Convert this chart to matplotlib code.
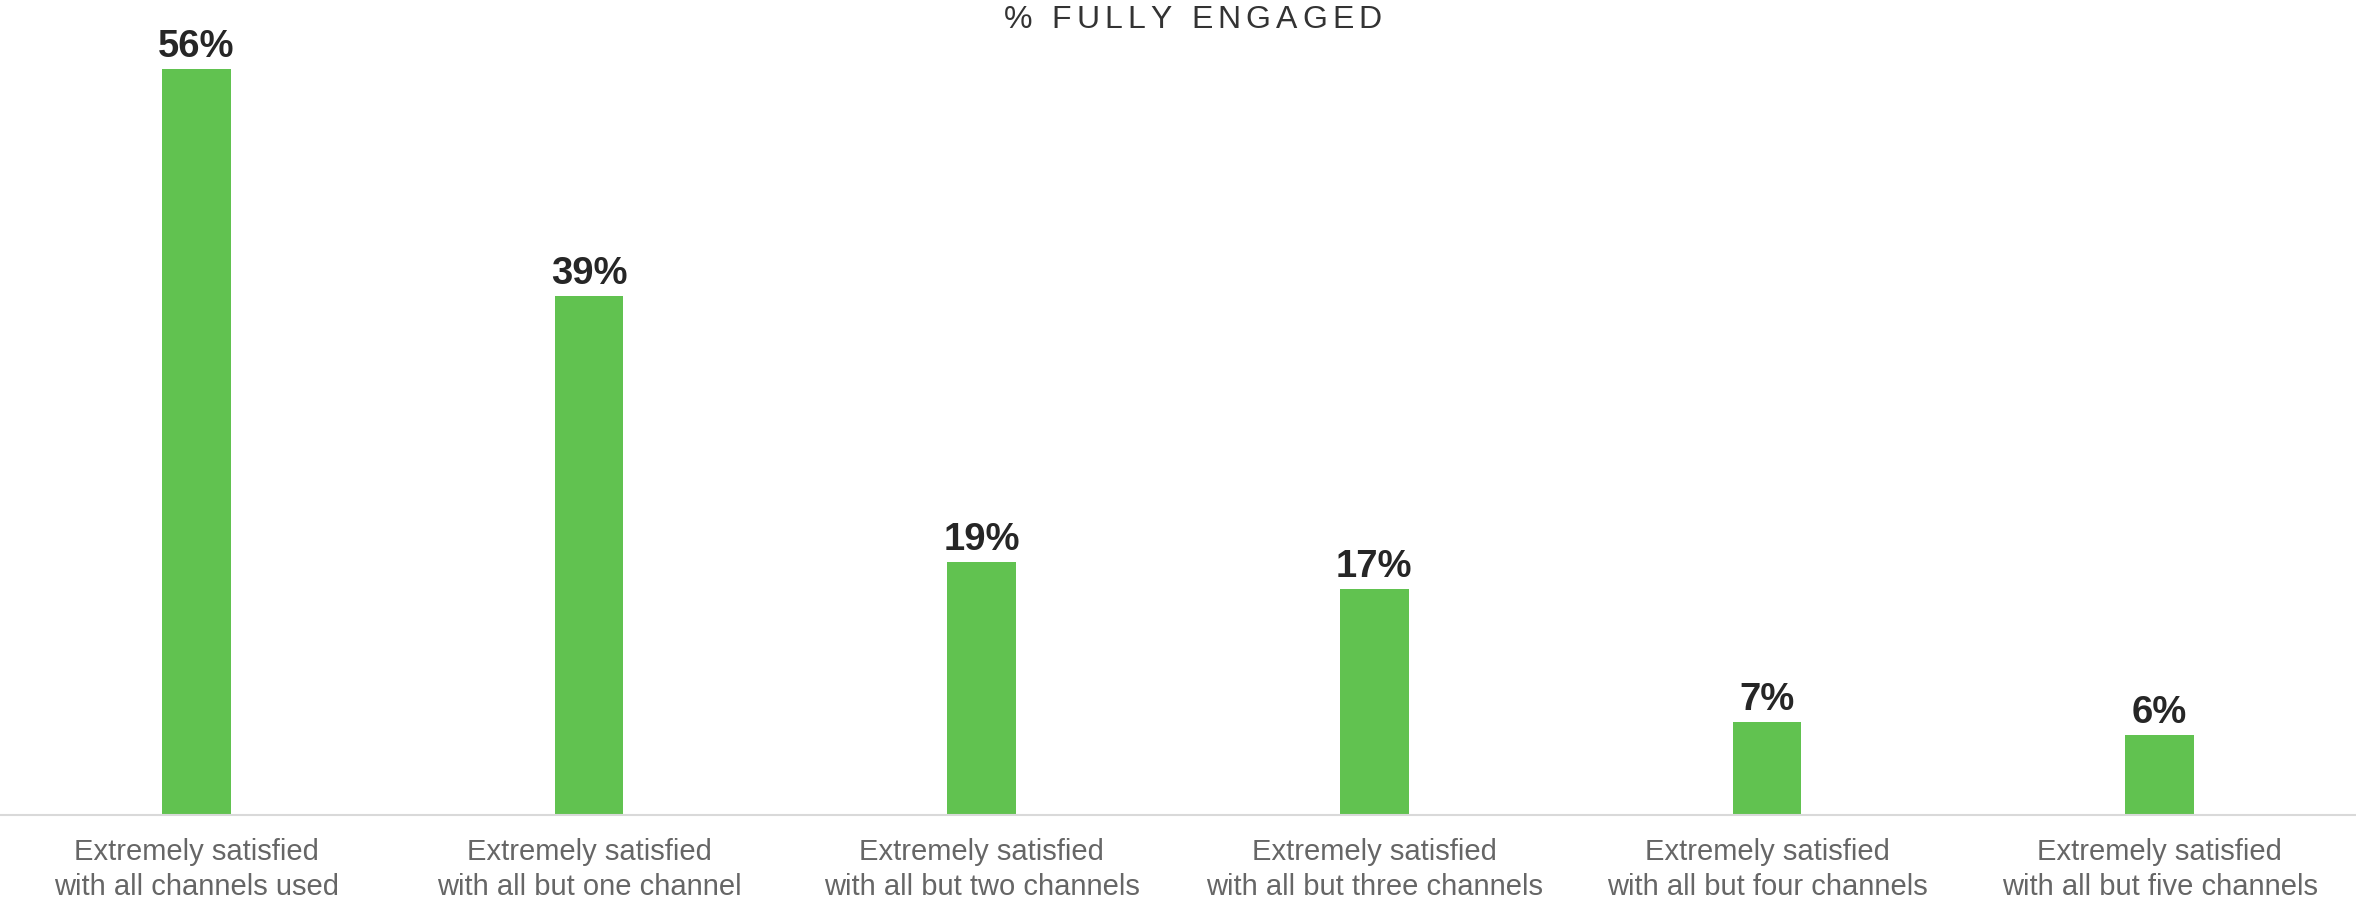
import matplotlib
matplotlib.use("Agg")
import matplotlib.pyplot as plt

categories = [
    "Extremely satisfied\nwith all channels used",
    "Extremely satisfied\nwith all but one channel",
    "Extremely satisfied\nwith all but two channels",
    "Extremely satisfied\nwith all but three channels",
    "Extremely satisfied\nwith all but four channels",
    "Extremely satisfied\nwith all but five channels",
]
values = [56, 39, 19, 17, 7, 6]
value_labels = ["56%", "39%", "19%", "17%", "7%", "6%"]
title = "% FULLY ENGAGED"

plt.rcParams['font.family'] = ['Liberation Sans', 'DejaVu Sans']

W, H, DPI = 2356, 903, 100
fig = plt.figure(figsize=(W / DPI, H / DPI), dpi=DPI)
base_px = 816
top_px = 17
ax = fig.add_axes([0, (H - base_px) / H, 1, (base_px - top_px) / H])

x = list(range(len(categories)))
ax.bar(x, values, width=0.175, color="#61C250", zorder=2)
ax.set_xlim(-0.5, len(categories) - 0.5)
ax.set_ylim(0, 60)

for xi, v, lab in zip(x, values, value_labels):
    ax.annotate(lab, (xi, v), xytext=(0, 9.4), textcoords="offset points",
                ha="center", va="baseline", fontsize=27.5, fontweight="bold",
                color="#262626")

ax.set_xticks(x)
ax.set_xticklabels(categories, fontsize=21, color="#666666", linespacing=1.3)
ax.tick_params(axis="x", length=0, pad=16)
ax.set_yticks([])
for s in ["top", "right", "left"]:
    ax.spines[s].set_visible(False)
ax.spines["bottom"].set_color("#d9d9d9")
ax.spines["bottom"].set_linewidth(1.5)

# Letter-spaced title
fig.canvas.draw()
renderer = fig.canvas.get_renderer()
fs = 23
tracking = 5.1  # px
widths = []
for ch in title:
    t = fig.text(0, 0, ch if ch != " " else "n", fontsize=fs)
    w = t.get_window_extent(renderer).width
    if ch == " ":
        w = w * 0.5
    widths.append(w)
    t.remove()
total = sum(widths) + tracking * (len(title) - 1)
xpos = 1193 - total / 2
ybase = H - 28
for ch, w in zip(title, widths):
    if ch != " ":
        fig.text(xpos / W, ybase / H, ch, fontsize=fs, color="#333333",
                 ha="left", va="baseline")
    xpos += w + tracking

fig.savefig("out.png", dpi=DPI)
